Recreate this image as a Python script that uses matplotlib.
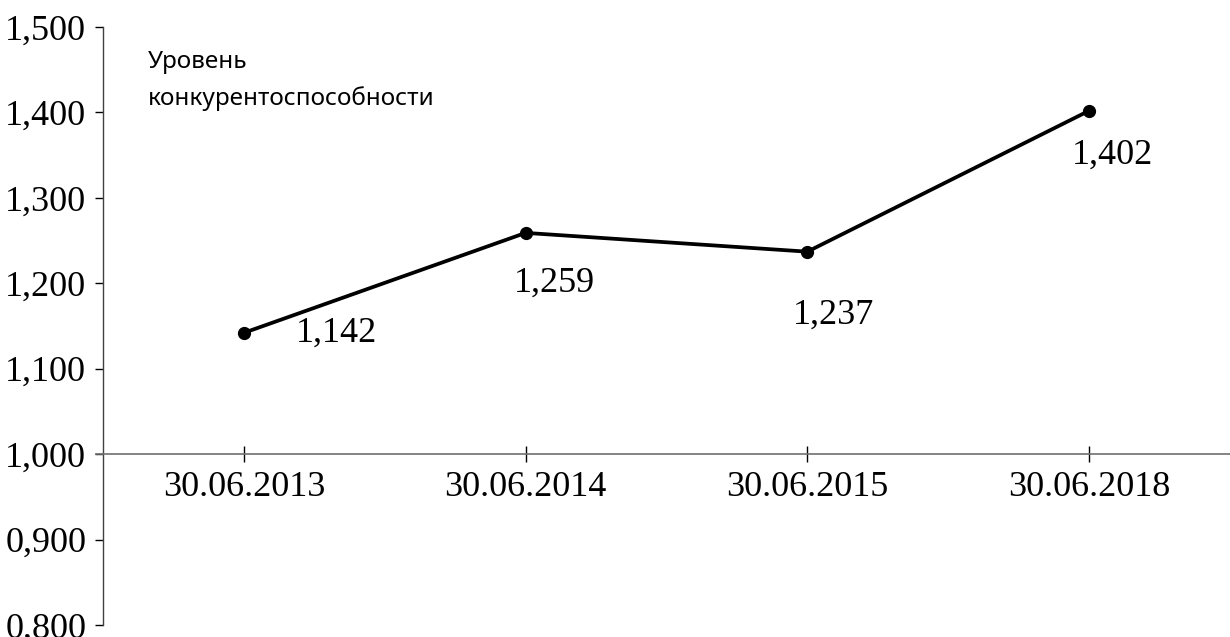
import matplotlib

matplotlib.use("Agg")
import matplotlib.pyplot as plt
from matplotlib.ticker import FuncFormatter

# data
dates = ["30.06.2013", "30.06.2014", "30.06.2015", "30.06.2018"]
level = [1.142, 1.259, 1.237, 1.402]
y_ticks = [0.8, 0.9, 1.0, 1.1, 1.2, 1.3, 1.4, 1.5]
note = "Уровень\nконкурентоспособности"

# label offsets (points) relative to each marker
label_offsets = [(67, 0), (21, -36), (19, -46), (17, -32)]


def comma(v, _pos=None):
    return f"{v:.3f}".replace(".", ",")


serif = "Liberation Serif"
fs = 26
fig = plt.figure(figsize=(12.3, 6.37), dpi=100)
ax = fig.add_axes([103 / 1230, 12 / 637, 1 - 103 / 1230, 598 / 637])

x = range(len(dates))
ax.plot(x, level, color="black", lw=2.7, marker="o", ms=8.5, zorder=3, clip_on=False)

for xi, v, (dx, dy) in zip(x, level, label_offsets):
    ax.annotate(comma(v), (xi, v), xytext=(dx, dy), textcoords="offset points",
                ha="center", va="center", fontsize=fs, family=serif)

ax.set_xlim(-0.5, 3.5)
ax.set_ylim(0.8, 1.5)
ax.set_yticks(y_ticks)
ax.yaxis.set_major_formatter(FuncFormatter(comma))
ax.set_xticks(list(x))
ax.set_xticklabels(dates)

for side in ("top", "right"):
    ax.spines[side].set_visible(False)
# category axis crosses the value axis at 1,000
ax.spines["bottom"].set_position(("data", 1.0))
ax.spines["bottom"].set_color("#707070")
ax.spines["bottom"].set_linewidth(1.2)
ax.spines["left"].set_color("#404040")
ax.spines["left"].set_linewidth(1.0)
# small stub of the category axis left of the value axis
ax.axhline(1.0, xmin=-0.006, xmax=0, color="#707070", lw=1.2, clip_on=False)

ax.tick_params(axis="y", direction="out", length=6, width=1, pad=6, labelsize=fs)
ax.tick_params(axis="x", direction="inout", length=12, width=1, pad=6, labelsize=fs)
for lab in ax.get_xticklabels() + ax.get_yticklabels():
    lab.set_family(serif)

ax.text(0.04, 0.91, note, transform=ax.transAxes, ha="left", va="center",
        fontsize=17.5, family="Noto Sans", linespacing=1.65)

fig.savefig("out.png", dpi=100)
